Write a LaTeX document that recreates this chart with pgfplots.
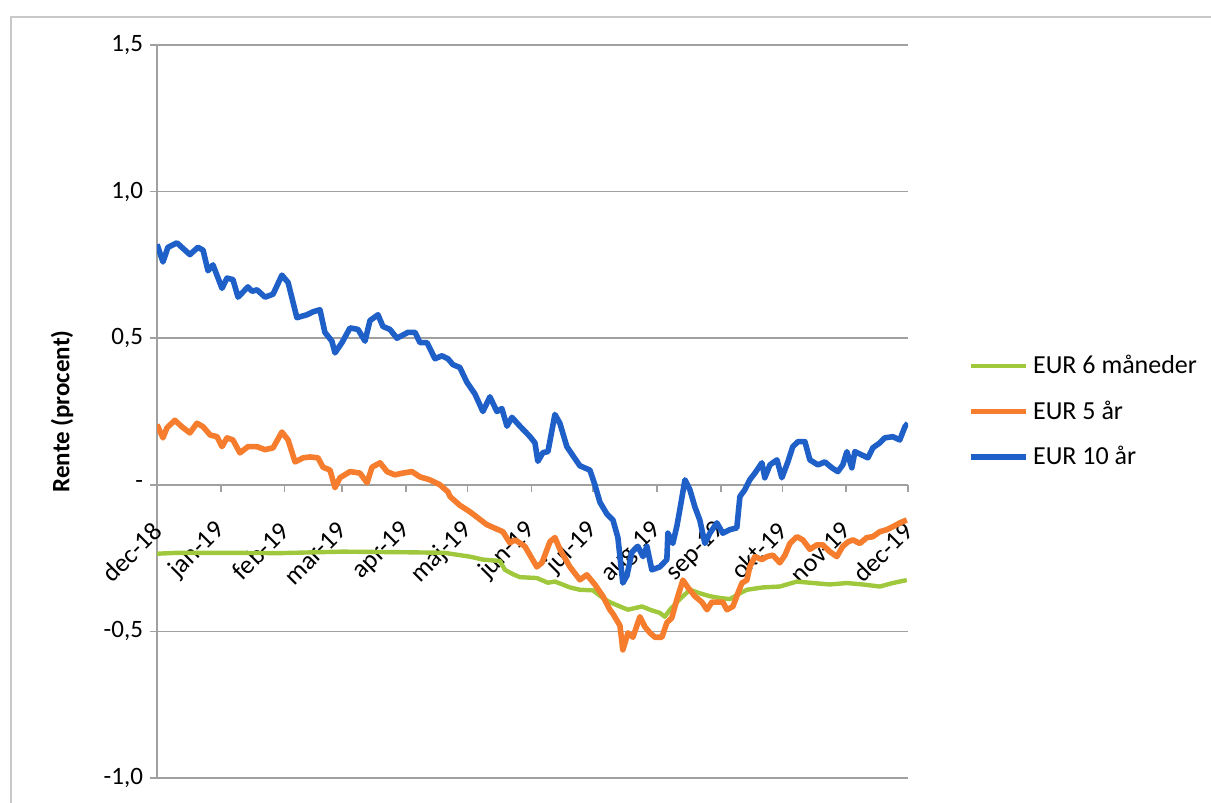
\documentclass[border=0pt]{standalone}
\usepackage{fontspec}
\setmainfont{Carlito}
\usepackage{pgfplots}
\pgfplotsset{compat=1.18}
\definecolor{gridgray}{RGB}{160,160,160}
\definecolor{cgreen}{RGB}{160,200,60}
\definecolor{corange}{RGB}{245,125,45}
\definecolor{cblue}{RGB}{30,95,200}
\definecolor{framegray}{RGB}{200,200,200}
\begin{document}
\begin{tikzpicture}
\useasboundingbox (-78.5bp,-12.5bp) rectangle (527bp,389bp);
\draw[framegray, line width=1bp] (-73bp,-12.5bp) -- (-73bp,380.5bp) -- (527bp,380.5bp);
\begin{axis}[
  at={(0,0)}, anchor=south west,
  scale only axis, width=375.5bp, height=366.5bp,
  xmin=0, xmax=365, ymin=-1, ymax=1.5,
  axis x line=middle, axis y line=left,
  hide obscured x ticks=false, hide obscured y ticks=false,
  x axis line style={-, gridgray, line width=0.8bp},
  y axis line style={-, gridgray, line width=0.8bp},
  xtick={0,31,62,90,121,151,182,212,243,274,304,335,365},
  xticklabels={dec-18,jan-19,feb-19,mar-19,apr-19,maj-19,jun-19,jul-19,aug-19,sep-19,okt-19,nov-19,dec-19},
  ytick={-1,-0.5,0,0.5,1,1.5},
  yticklabels={{-1,0},{-0,5},{-\hspace{3bp}},{0,5},{1,0},{1,5}},
  ymajorgrids, grid style={gridgray, line width=0.8bp},
  tick align=outside, major tick length=3.5bp,
  tick style={gridgray, line width=0.8bp},
  xticklabel style={font=\fontsize{13bp}{15.6bp}\selectfont, xshift=2.5bp, yshift=-15bp, rotate=45, anchor=east},
  yticklabel style={font=\fontsize{12.5bp}{15bp}\selectfont},
  ylabel={Rente (procent)},
  ylabel style={font=\fontsize{12.5bp}{15bp}\selectfont\bfseries, at={(axis description cs:-0.1265,0.5)}, rotate=0, anchor=center},
  no markers,
  legend cell align=left,
  legend style={draw=none, fill=none, at={(axis description cs:1.08,0.5)}, anchor=west, font=\fontsize{13bp}{15.6bp}\selectfont, row sep=8bp, inner sep=0pt},
  legend image code/.code={\draw[#1] (0bp,0bp) -- (27.5bp,0bp);},
  every axis plot/.append style={line join=round},
]
\addplot[cgreen, line width=2.2bp] coordinates {
(0,-0.235) (10,-0.232) (30,-0.232) (60,-0.233) (90,-0.228) (120,-0.230) (140,-0.232)
(142.4,-0.235) (152,-0.245) (158.4,-0.255) (166.7,-0.26) (169.1,-0.29) (173,-0.305)
(176.4,-0.315) (184.6,-0.318) (190,-0.334) (193.4,-0.33) (200.7,-0.35) (205.5,-0.358)
(211.9,-0.36) (216.7,-0.386) (220,-0.40) (225,-0.415) (228.9,-0.426) (235.7,-0.415)
(239.6,-0.426) (244.4,-0.437) (246.8,-0.45) (249.3,-0.426) (254.1,-0.39) (259,-0.358)
(263.8,-0.37) (268.7,-0.38) (273.6,-0.386) (278.4,-0.39) (283.3,-0.37) (286.7,-0.358)
(294.5,-0.35) (302.7,-0.347) (311,-0.33) (318.8,-0.335) (327,-0.34) (335.3,-0.335)
(343.1,-0.34) (351.3,-0.347) (357.6,-0.335) (364.4,-0.325)
};
\addlegendentry{EUR 6 måneder}
\addplot[corange, line width=2.8bp] coordinates {
(0,0.205) (2.9,0.16) (4.9,0.195) (8.7,0.22) (12.1,0.198) (16.0,0.177) (19.4,0.21)
(22.4,0.198) (25.8,0.17) (29.2,0.164) (31.6,0.13) (34.0,0.16) (36.9,0.153) (40.3,0.109)
(44.2,0.13) (48.6,0.13) (52.5,0.12) (56.4,0.126) (60.7,0.18) (63.7,0.153) (67.1,0.078)
(71.0,0.092) (74.4,0.095) (78.2,0.092) (80.7,0.06) (84.1,0.05) (86.5,-0.01) (88.9,0.024)
(93.8,0.045) (98.6,0.04) (102.1,0.007) (104.5,0.06) (108.4,0.075) (111.8,0.045)
(115.6,0.034) (119.5,0.04) (123.9,0.045) (127.8,0.027) (132.6,0.017) (137.5,0.0)
(141.4,-0.024) (142.4,-0.04) (147.2,-0.07) (152.1,-0.092) (160.3,-0.136) (168.1,-0.16)
(171.5,-0.198) (174.0,-0.188) (178.8,-0.21) (184.6,-0.28) (187.1,-0.266) (191.0,-0.194)
(193.4,-0.18) (195.8,-0.22) (200.7,-0.28) (205.5,-0.324) (208.9,-0.307) (212.8,-0.34)
(216.7,-0.38) (220.1,-0.426) (221.6,-0.44) (225.0,-0.48) (226.4,-0.563) (228.9,-0.505)
(231.3,-0.52) (234.7,-0.45) (237.1,-0.484) (239.6,-0.505) (242.0,-0.52) (245.4,-0.52)
(247.8,-0.47) (250.2,-0.454) (252.7,-0.39) (255.6,-0.325) (258.0,-0.35) (261.4,-0.38)
(264.8,-0.40) (267.3,-0.426) (269.7,-0.40) (272.6,-0.40) (275.0,-0.40) (277.0,-0.426)
(279.9,-0.415) (282.3,-0.37) (284.3,-0.335) (286.7,-0.325) (288.1,-0.28) (290.6,-0.245)
(294.0,-0.255) (296.4,-0.245) (299.3,-0.24) (302.7,-0.266) (305.2,-0.24) (307.6,-0.2)
(311.0,-0.177) (313.9,-0.188) (317.3,-0.22) (320.7,-0.205) (323.6,-0.205) (327.0,-0.228)
(330.4,-0.245) (333.3,-0.21) (335.8,-0.195) (338.2,-0.188) (341.6,-0.2) (345.0,-0.18)
(347.9,-0.177) (351.3,-0.16) (354.7,-0.153) (357.6,-0.143) (361.0,-0.13) (364.4,-0.12)
};
\addlegendentry{EUR 5 år}
\addplot[cblue, line width=2.8bp] coordinates {
(0,0.82) (2.9,0.76) (5.3,0.81) (9.7,0.825) (16.0,0.785) (19.9,0.81) (22.4,0.80)
(24.8,0.73) (27.2,0.75) (31.6,0.67) (34.0,0.705) (36.9,0.70) (39.4,0.64) (44.2,0.675)
(46.2,0.66) (48.6,0.665) (52.5,0.64) (56.4,0.65) (60.7,0.715) (63.7,0.69) (68.0,0.57)
(72.9,0.58) (75.8,0.59) (79.2,0.597) (81.6,0.52) (85.0,0.49) (86.5,0.45) (89.9,0.485)
(93.8,0.535) (97.7,0.53) (101.1,0.49) (103.5,0.56) (107.4,0.58) (109.8,0.54) (113.2,0.53)
(116.6,0.50) (122.0,0.52) (125.4,0.52) (127.8,0.485) (131.2,0.485) (135.1,0.43)
(138.5,0.44) (141.4,0.43) (143.8,0.41) (147.2,0.40) (150.6,0.35) (154.5,0.31) (158.4,0.25)
(161.8,0.30) (165.2,0.25) (167.6,0.26) (170.1,0.20) (172.5,0.23) (176.4,0.20) (181.2,0.165)
(183.7,0.143) (185.1,0.08) (187.6,0.11) (190.0,0.113) (193.4,0.24) (195.8,0.21)
(199.2,0.13) (202.1,0.10) (205.5,0.065) (210.4,0.05) (212.8,0.0) (215.3,-0.06)
(218.7,-0.10) (221.6,-0.12) (224.0,-0.18) (226.4,-0.335) (228.4,-0.31) (230.8,-0.23)
(233.7,-0.21) (236.2,-0.245) (238.1,-0.21) (240.5,-0.29) (244.4,-0.28) (247.8,-0.255)
(248.3,-0.165) (250.7,-0.2) (252.7,-0.14) (254.1,-0.085) (256.6,0.017) (259.0,-0.017)
(261.4,-0.075) (263.8,-0.12) (266.3,-0.2) (268.7,-0.165) (272.1,-0.13) (275.0,-0.165)
(278.4,-0.153) (281.8,-0.147) (283.3,-0.04) (285.7,-0.017) (288.1,0.017) (290.6,0.04)
(294.0,0.075) (295.4,0.024) (297.9,0.068) (301.3,0.085) (303.7,0.024) (306.6,0.078)
(309.0,0.13) (311.5,0.147) (314.9,0.147) (317.3,0.085) (321.2,0.068) (324.6,0.078)
(328.0,0.058) (330.9,0.045) (333.3,0.068) (335.3,0.113) (337.7,0.058) (339.2,0.113)
(343.1,0.10) (345.5,0.092) (347.9,0.126) (351.3,0.143) (353.7,0.16) (357.6,0.164)
(361.0,0.153) (363.5,0.198) (364.9,0.21)
};
\addlegendentry{EUR 10 år}
\end{axis}
\end{tikzpicture}
\end{document}
